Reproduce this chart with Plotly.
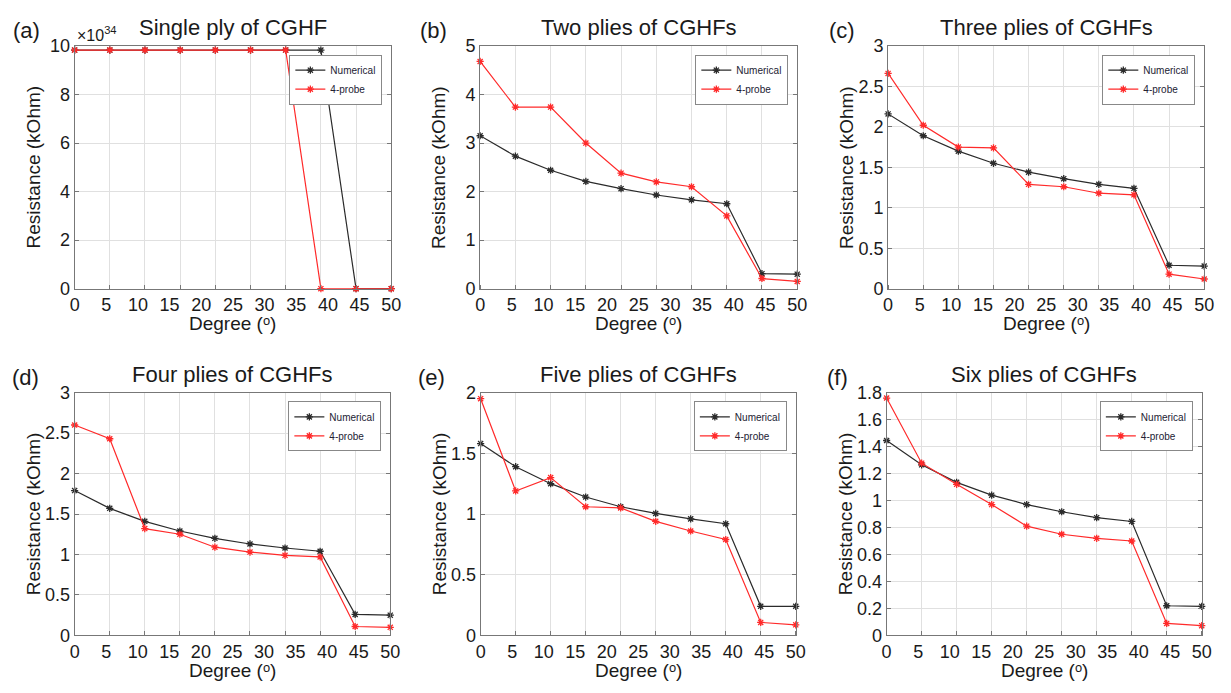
import plotly.graph_objects as go

# ---- data ----
degree_positions = [0, 5.56, 11.11, 16.67, 22.22, 27.78, 33.33, 38.89, 44.44, 50]
tick_labels = [0, 5, 10, 15, 20, 25, 30, 35, 40, 45, 50]

SCALE_A = 1e34
a_numerical = [9.83e34, 9.83e34, 9.83e34, 9.83e34, 9.83e34, 9.83e34, 9.83e34, 9.83e34, 0, 0]
a_probe = [9.83e34, 9.83e34, 9.83e34, 9.83e34, 9.83e34, 9.83e34, 9.83e34, 0, 0, 0]

b_numerical = [3.15, 2.73, 2.44, 2.21, 2.06, 1.93, 1.83, 1.75, 0.31, 0.30]
b_probe = [4.68, 3.74, 3.74, 3.00, 2.38, 2.20, 2.10, 1.50, 0.21, 0.15]

c_numerical = [2.16, 1.89, 1.70, 1.55, 1.44, 1.36, 1.29, 1.24, 0.29, 0.28]
c_probe = [2.66, 2.02, 1.75, 1.74, 1.29, 1.26, 1.18, 1.16, 0.18, 0.12]

d_numerical = [1.79, 1.57, 1.41, 1.29, 1.20, 1.13, 1.08, 1.04, 0.26, 0.25]
d_probe = [2.60, 2.43, 1.32, 1.25, 1.09, 1.03, 0.99, 0.97, 0.11, 0.10]

e_numerical = [1.58, 1.39, 1.25, 1.14, 1.06, 1.005, 0.96, 0.92, 0.24, 0.24]
e_probe = [1.95, 1.19, 1.30, 1.06, 1.05, 0.94, 0.86, 0.79, 0.107, 0.087]

f_numerical = [1.445, 1.265, 1.135, 1.04, 0.97, 0.917, 0.873, 0.845, 0.22, 0.216]
f_probe = [1.76, 1.277, 1.12, 0.97, 0.81, 0.75, 0.72, 0.70, 0.089, 0.072]

panels = [
    ("(a)", "Single ply of CGHF", [v / SCALE_A for v in a_numerical], [v / SCALE_A for v in a_probe], [0, 10], [0, 2, 4, 6, 8, 10]),
    ("(b)", "Two plies of CGHFs", b_numerical, b_probe, [0, 5], [0, 1, 2, 3, 4, 5]),
    ("(c)", "Three plies of CGHFs", c_numerical, c_probe, [0, 3], [0, 0.5, 1, 1.5, 2, 2.5, 3]),
    ("(d)", "Four plies of CGHFs", d_numerical, d_probe, [0, 3], [0, 0.5, 1, 1.5, 2, 2.5, 3]),
    ("(e)", "Five plies of CGHFs", e_numerical, e_probe, [0, 2], [0, 0.5, 1, 1.5, 2]),
    ("(f)", "Six plies of CGHFs", f_numerical, f_probe, [0, 1.8], [0, 0.2, 0.4, 0.6, 0.8, 1, 1.2, 1.4, 1.6, 1.8]),
]

W, H = 1231, 693
# plot-area pixel boxes (left, right, top, bottom)
boxes = [
    (70.5, 391, 37, 287),
    (481, 802, 37, 287),
    (894, 1214, 37, 287),
    (70.5, 390, 394, 644),
    (481.5, 800.5, 394, 644),
    (892.5, 1211.5, 394, 644),
]
label_x = [22, 434, 847, 21, 432, 843]

FONT = "Liberation Sans, Arial, sans-serif"
GRID = "#e0e0e0"
AXC = "#777777"
BLACK = "#2b2b2b"
RED = "#ff2a2a"
TXT = "#1a1a1a"

fig = go.Figure()
layout = dict(
    width=W, height=H, margin=dict(l=0, r=0, t=0, b=0),
    paper_bgcolor="white", plot_bgcolor="white",
    font=dict(family=FONT, color=TXT),
    showlegend=True,
)
annotations = []

for i, (lab, title, num, probe, yr, yt) in enumerate(panels):
    k = i + 1
    xs = "" if k == 1 else str(k)
    l, r, t, b = boxes[i]
    xd = [l / W, r / W]
    yd = [1 - b / H, 1 - t / H]
    leg = "legend" if k == 1 else f"legend{k}"

    fig.add_trace(go.Scatter(
        x=degree_positions, y=num, name="Numerical", mode="lines+markers",
        line=dict(color=BLACK, width=1.2),
        marker=dict(symbol="asterisk-open", size=6, line=dict(color=BLACK, width=1.3)),
        xaxis="x" + xs, yaxis="y" + xs, legend=leg, cliponaxis=False,
    ))
    fig.add_trace(go.Scatter(
        x=degree_positions, y=probe, name="4-probe", mode="lines+markers",
        line=dict(color=RED, width=1.2),
        marker=dict(symbol="asterisk-open", size=6, line=dict(color=RED, width=1.3)),
        xaxis="x" + xs, yaxis="y" + xs, legend=leg, cliponaxis=False,
    ))

    layout["xaxis" + xs] = dict(
        domain=xd, anchor="y" + xs, range=[0, 50],
        tickmode="array", tickvals=tick_labels, ticktext=[str(v) for v in tick_labels],
        ticks="", showgrid=False, zeroline=False,
        showline=True, mirror=True, linecolor=AXC, linewidth=1,
        tickfont=dict(size=18, family=FONT, color=TXT),
        minor=dict(tickmode="array", tickvals=degree_positions, showgrid=True,
                   gridcolor=GRID, gridwidth=1, ticks="inside", ticklen=4, tickcolor=AXC),
    )
    layout["yaxis" + xs] = dict(
        domain=yd, anchor="x" + xs, range=yr,
        tickmode="array", tickvals=yt, ticktext=[f"{v:g}" for v in yt],
        ticks="inside", ticklen=4, tickcolor=AXC,
        showgrid=True, gridcolor=GRID, gridwidth=1, zeroline=False,
        showline=True, mirror="ticks", linecolor=AXC, linewidth=1,
        tickfont=dict(size=18, family=FONT, color=TXT),
    )
    layout[leg] = dict(
        x=(r - 9) / W, y=1 - (t + 9) / H, xanchor="right", yanchor="top",
        bgcolor="white", bordercolor="#888888", borderwidth=1,
        font=dict(size=10, family=FONT, color="#222233"),
        itemwidth=30, tracegroupgap=0,
    )

    # titles
    annotations.append(dict(text=title, x=(l + r) / 2 / W, y=1 - (t - 19) / H,
                            xref="paper", yref="paper", showarrow=False,
                            font=dict(size=22, family=FONT, color=TXT),
                            xanchor="center", yanchor="middle"))
    annotations.append(dict(text=lab, x=label_x[i] / W, y=1 - (t - 16) / H,
                            xref="paper", yref="paper", showarrow=False,
                            font=dict(size=22, family=FONT, color=TXT),
                            xanchor="center", yanchor="middle"))
    annotations.append(dict(text="Resistance (kOhm)", x=(l - 42) / W, y=(yd[0] + yd[1]) / 2,
                            xref="paper", yref="paper", showarrow=False, textangle=-90,
                            font=dict(size=19, family=FONT, color=TXT),
                            xanchor="center", yanchor="middle"))
    annotations.append(dict(text="Degree (ᵒ)", x=(l + r) / 2 / W, y=1 - (b + 36) / H,
                            xref="paper", yref="paper", showarrow=False,
                            font=dict(size=19, family=FONT, color=TXT),
                            xanchor="center", yanchor="middle"))

annotations.append(dict(text="×10<sup>34</sup>", x=71 / W, y=1 - 25 / H,
                        xref="paper", yref="paper", showarrow=False,
                        font=dict(size=16, family=FONT, color=TXT),
                        xanchor="left", yanchor="middle"))

layout["annotations"] = annotations
fig.update_layout(**layout)
fig.write_html("out.html")
